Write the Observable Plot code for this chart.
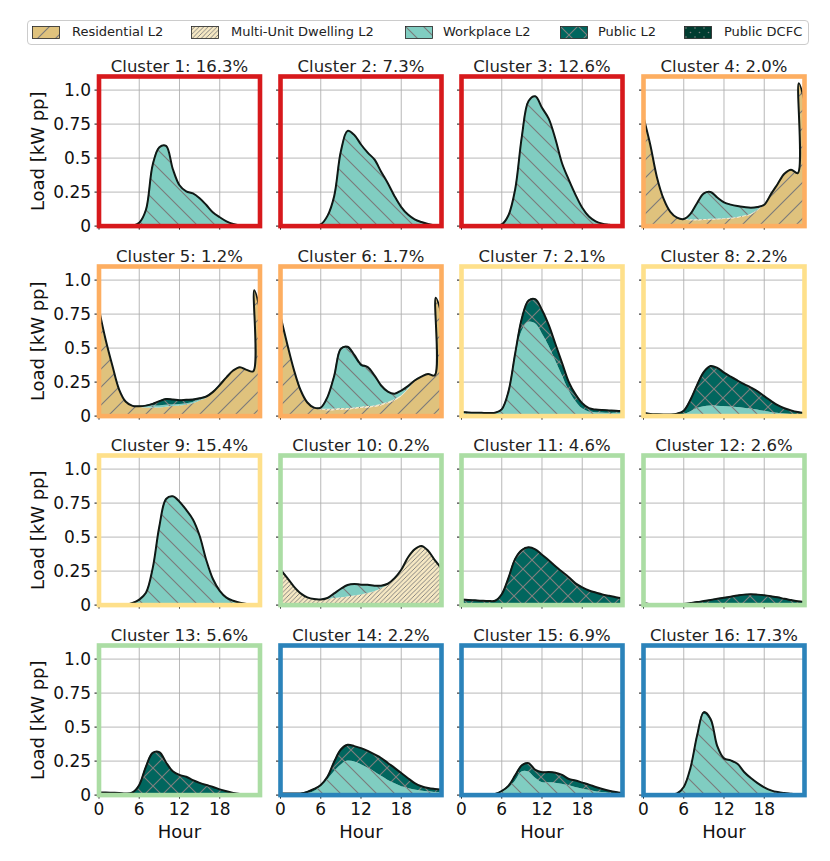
<!DOCTYPE html>
<html>
<head>
<meta charset="utf-8">
<script src="https://cdn.jsdelivr.net/npm/d3@7"></script>
<script src="https://cdn.jsdelivr.net/npm/@observablehq/plot@0.6"></script>
<style>
  html, body { margin: 0; padding: 0; background: #ffffff; }
  #root { position: relative; width: 830px; height: 861px; background: #ffffff; font-family: "DejaVu Sans", sans-serif; overflow: hidden; }
  #legend { position: absolute; left: 27px; top: 20px; width: 780px; height: 23px; border: 1px solid #cccccc; border-radius: 4px; background: #fff; }
  .sw { position: absolute; top: 5px; display: block; }
  .lt { position: absolute; top: 3px; font-size: 13px; line-height: 16px; color: #222; white-space: nowrap; }
</style>
</head>
<body>
<svg width="0" height="0" style="position:absolute">
  <defs>
    <pattern id="h-res" patternUnits="userSpaceOnUse" width="18" height="18">
      <rect width="18" height="18" fill="#dfc27d"/>
      <path d="M-4.5,4.5L4.5,-4.5M0,18L18,0M13.5,22.5L22.5,13.5" stroke="#7a7a7a" stroke-width="1.1"/>
    </pattern>
    <pattern id="h-mud" patternUnits="userSpaceOnUse" width="4.5" height="4.5">
      <rect width="4.5" height="4.5" fill="#f6e8c3"/>
      <path d="M-1.125,1.125L1.125,-1.125M0,4.5L4.5,0M3.375,5.625L5.625,3.375" stroke="#7a7a7a" stroke-width="0.9"/>
    </pattern>
    <pattern id="h-wp" patternUnits="userSpaceOnUse" width="18" height="18">
      <rect width="18" height="18" fill="#80cdc1"/>
      <path d="M-4.5,13.5L4.5,22.5M0,0L18,18M13.5,-4.5L22.5,4.5" stroke="#7a7a7a" stroke-width="1.1"/>
    </pattern>
    <pattern id="h-pub" patternUnits="userSpaceOnUse" width="18" height="18">
      <rect width="18" height="18" fill="#01665e"/>
      <path d="M-4.5,4.5L4.5,-4.5M0,18L18,0M13.5,22.5L22.5,13.5M-4.5,13.5L4.5,22.5M0,0L18,18M13.5,-4.5L22.5,4.5" stroke="#7f7f7f" stroke-width="1.1"/>
    </pattern>
    <pattern id="h-dcfc" patternUnits="userSpaceOnUse" width="9" height="9">
      <rect width="9" height="9" fill="#003c30"/>
      <circle cx="2" cy="2" r="0.8" fill="#7f7f7f"/>
      <circle cx="6.5" cy="6.5" r="0.8" fill="#7f7f7f"/>
    </pattern>
  </defs>
</svg>
<div id="root">
  <div id="legend"></div>
</div>
<script>
// ---------------- data ----------------
const TYPES = ["Residential L2", "Multi-Unit Dwelling L2", "Workplace L2", "Public L2", "Public DCFC"];

const HOURS = [0,1,2,3,4,5,6,7,8,9,10,11,12,13,14,15,16,17,18,19,20,21,22,23,24];
const HOURS_LATE = [0,1,2,3,4,5,6,7,8,9,10,11,12,13,14,15,16,17,18,19,20,21,22,23,23.15,24];

const TITLES = ["Cluster 1: 16.3%", "Cluster 2: 7.3%", "Cluster 3: 12.6%", "Cluster 4: 2.0%",
  "Cluster 5: 1.2%", "Cluster 6: 1.7%", "Cluster 7: 2.1%", "Cluster 8: 2.2%",
  "Cluster 9: 15.4%", "Cluster 10: 0.2%", "Cluster 11: 4.6%", "Cluster 12: 2.6%",
  "Cluster 13: 5.6%", "Cluster 14: 2.2%", "Cluster 15: 6.9%", "Cluster 16: 17.3%"];
const GROUP = [0,0,0,1,1,1,2,2,2,3,3,3,3,4,4,4];

const X_TICKS = [0, 6, 12, 18];
const X_TICK_LABELS = ["0", "6", "12", "18"];
const Y_TICKS = [0, 0.25, 0.5, 0.75, 1.0];
const Y_TICK_LABELS = ["0", "0.25", "0.5", "0.75", "1.0"];
const X_LABEL = "Hour";
const Y_LABEL = "Load [kW pp]";

const c1_wp = [0,0,0,0,0,0.003,0.025,0.12,0.45,0.58,0.59,0.42,0.3,0.255,0.24,0.205,0.155,0.1,0.065,0.035,0.015,0.004,0,0,0];
const c2_wp = [0,0,0,0,0,0.002,0.012,0.075,0.22,0.55,0.70,0.67,0.6,0.54,0.49,0.4,0.315,0.22,0.14,0.085,0.05,0.03,0.015,0.005,0];
const c3_wp = [0,0,0,0,0,0.002,0.012,0.08,0.27,0.66,0.92,0.955,0.87,0.79,0.64,0.46,0.34,0.23,0.135,0.07,0.035,0.018,0.01,0.003,0];

const c4_res = [0.80,0.60,0.36,0.2,0.105,0.062,0.045,0.04,0.04,0.042,0.044,0.046,0.048,0.052,0.058,0.068,0.08,0.11,0.155,0.235,0.31,0.385,0.415,0.39,1.05,0.92];
const c4_mud = [0,0,0,0,0,0,0.004,0.006,0.006,0.006,0.006,0.006,0.006,0.006,0.006,0.006,0.006,0.006,0.002,0,0,0,0,0,0,0];
const c4_wp  = [0,0,0,0,0,0,0.003,0.044,0.124,0.192,0.2,0.158,0.121,0.1,0.083,0.066,0.049,0.024,0,0,0,0,0,0,0,0];

const c5_res = [0.785,0.56,0.37,0.195,0.105,0.075,0.065,0.06,0.06,0.06,0.065,0.07,0.075,0.08,0.09,0.11,0.13,0.17,0.225,0.285,0.335,0.36,0.34,0.33,0.925,0.78];
const c5_wp  = [0,0,0,0,0,0,0.005,0.012,0.015,0.015,0.015,0.012,0.01,0.01,0.01,0.008,0.006,0.004,0.002,0,0,0,0,0,0,0];
const c5_pub = [0,0,0,0,0,0,0.002,0.005,0.015,0.035,0.045,0.04,0.032,0.03,0.022,0.013,0.008,0.004,0.002,0,0,0,0,0,0,0];

const c6_res = [0.735,0.53,0.34,0.19,0.1,0.06,0.045,0.04,0.04,0.045,0.045,0.05,0.055,0.06,0.065,0.075,0.09,0.11,0.14,0.19,0.25,0.29,0.31,0.30,0.87,0.75];
const c6_mud = [0,0,0,0,0,0.002,0.008,0.01,0.01,0.01,0.01,0.01,0.01,0.01,0.01,0.01,0.01,0.01,0.008,0.005,0.002,0,0,0,0,0];
const c6_wp  = [0,0,0,0,0,0,0.01,0.09,0.24,0.43,0.44,0.37,0.3,0.28,0.22,0.14,0.08,0.045,0.04,0.025,0.01,0,0,0,0,0];
const c6_pub = [0,0,0,0,0,0,0,0,0.005,0.01,0.015,0.02,0.015,0.01,0.005,0,0,0,0,0,0,0,0,0,0,0];

const c7_wp  = [0.02,0.018,0.017,0.016,0.016,0.018,0.04,0.16,0.42,0.62,0.69,0.68,0.61,0.52,0.41,0.3,0.19,0.11,0.055,0.03,0.025,0.022,0.02,0.02,0.02];
const c7_pub = [0.01,0.009,0.008,0.008,0.007,0.007,0.01,0.02,0.04,0.1,0.16,0.18,0.17,0.15,0.12,0.09,0.06,0.05,0.04,0.028,0.023,0.022,0.022,0.02,0.017];

const c8_wp  = [0.008,0.005,0.005,0.005,0.005,0.005,0.01,0.03,0.055,0.068,0.074,0.073,0.07,0.066,0.063,0.058,0.052,0.045,0.035,0.027,0.02,0.015,0.012,0.01,0.008];
const c8_pub = [0.017,0.011,0.008,0.007,0.007,0.013,0.03,0.09,0.175,0.257,0.294,0.282,0.25,0.224,0.199,0.177,0.158,0.137,0.112,0.085,0.06,0.043,0.03,0.02,0.014];

const c9_wp  = [0,0,0,0,0.003,0.015,0.04,0.09,0.27,0.58,0.78,0.8,0.76,0.7,0.63,0.51,0.33,0.19,0.105,0.055,0.032,0.017,0.008,0.002,0];

const c10_mud = [0.26,0.2,0.136,0.086,0.057,0.044,0.04,0.042,0.048,0.054,0.06,0.066,0.074,0.085,0.098,0.118,0.145,0.195,0.26,0.35,0.41,0.435,0.4,0.33,0.27];
const c10_wp  = [0,0,0,0,0,0,0.002,0.01,0.038,0.066,0.088,0.09,0.076,0.065,0.045,0.025,0.012,0.003,0,0,0,0,0,0,0];

const c11_pub = [0.042,0.038,0.035,0.032,0.03,0.032,0.08,0.2,0.34,0.405,0.425,0.41,0.37,0.33,0.285,0.245,0.205,0.16,0.13,0.107,0.092,0.078,0.068,0.058,0.05];
const c12_pub = [0.015,0.007,0.003,0.002,0.002,0.003,0.008,0.015,0.022,0.03,0.038,0.046,0.054,0.062,0.07,0.077,0.08,0.077,0.072,0.065,0.057,0.046,0.037,0.028,0.022];
const c13_pub = [0.02,0.019,0.017,0.015,0.012,0.02,0.075,0.21,0.31,0.315,0.24,0.175,0.148,0.135,0.11,0.09,0.074,0.06,0.042,0.028,0.016,0.008,0.003,0.001,0];

const c14_wp  = [0.005,0.004,0.004,0.005,0.01,0.025,0.06,0.11,0.17,0.22,0.25,0.245,0.225,0.2,0.172,0.14,0.11,0.085,0.063,0.048,0.037,0.03,0.024,0.02,0.017];
const c14_pub = [0.007,0.007,0.007,0.007,0.014,0.02,0.015,0.025,0.075,0.115,0.12,0.115,0.12,0.125,0.128,0.133,0.126,0.115,0.099,0.076,0.051,0.035,0.028,0.025,0.023];

const c15_wp  = [0,0,0,0,0,0.005,0.02,0.05,0.1,0.17,0.17,0.125,0.092,0.09,0.088,0.08,0.07,0.056,0.045,0.035,0.025,0.019,0.014,0.009,0.005];
const c15_pub = [0.001,0.001,0.001,0.001,0.001,0.003,0.01,0.018,0.045,0.05,0.065,0.06,0.076,0.08,0.077,0.068,0.048,0.051,0.047,0.042,0.035,0.026,0.018,0.013,0.01];

const c16_wp  = [0,0,0,0,0,0.012,0.06,0.2,0.435,0.595,0.545,0.352,0.265,0.25,0.227,0.17,0.125,0.088,0.057,0.035,0.022,0.015,0.01,0.005,0.002];
const c16_pub = [0,0,0,0,0,0,0,0,0.005,0.015,0.015,0.008,0.005,0.005,0.003,0,0,0,0,0,0,0,0,0,0];

// which series each panel holds (type name, values), and its hour grid
const PANELS = [
  {hours: HOURS, parts: [["Workplace L2", c1_wp]]},
  {hours: HOURS, parts: [["Workplace L2", c2_wp]]},
  {hours: HOURS, parts: [["Workplace L2", c3_wp]]},
  {hours: HOURS_LATE, parts: [["Residential L2", c4_res], ["Multi-Unit Dwelling L2", c4_mud], ["Workplace L2", c4_wp]]},
  {hours: HOURS_LATE, parts: [["Residential L2", c5_res], ["Workplace L2", c5_wp], ["Public L2", c5_pub]]},
  {hours: HOURS_LATE, parts: [["Residential L2", c6_res], ["Multi-Unit Dwelling L2", c6_mud], ["Workplace L2", c6_wp], ["Public L2", c6_pub]]},
  {hours: HOURS, parts: [["Workplace L2", c7_wp], ["Public L2", c7_pub]]},
  {hours: HOURS, parts: [["Workplace L2", c8_wp], ["Public L2", c8_pub]]},
  {hours: HOURS, parts: [["Workplace L2", c9_wp]]},
  {hours: HOURS, parts: [["Multi-Unit Dwelling L2", c10_mud], ["Workplace L2", c10_wp]]},
  {hours: HOURS, parts: [["Public L2", c11_pub]]},
  {hours: HOURS, parts: [["Public L2", c12_pub]]},
  {hours: HOURS, parts: [["Public L2", c13_pub]]},
  {hours: HOURS, parts: [["Workplace L2", c14_wp], ["Public L2", c14_pub]]},
  {hours: HOURS, parts: [["Workplace L2", c15_wp], ["Public L2", c15_pub]]},
  {hours: HOURS, parts: [["Workplace L2", c16_wp], ["Public L2", c16_pub]]}
];

// ---------------- styles / layout ----------------
const PATTERNS = ["url(#h-res)", "url(#h-mud)", "url(#h-wp)", "url(#h-pub)", "url(#h-dcfc)"];
const FRAME_COLORS = ["#d7191c", "#fdae61", "#fee08b", "#abdda4", "#2b83ba"];
const AX_LEFT = [98.5, 279.8, 461, 642.5];
const AX_TOP = [75.5, 265.5, 455, 644.5];
const AXW = 161, AXH = 149.6;
const CURVE = "catmull-rom";
const LEG_SWATCH_X = [4, 163, 377, 532, 656];
const LEG_TEXT_X = [44, 203, 415, 570, 696];

const root = document.getElementById("root");

// legend
const legend = d3.select("#legend");
TYPES.forEach((t, i) => {
  const sw = legend.append("svg").attr("class", "sw").attr("width", 28).attr("height", 13)
    .style("left", LEG_SWATCH_X[i] + "px");
  sw.append("rect").attr("x", 0.5).attr("y", 0.5).attr("width", 27).attr("height", 12)
    .attr("fill", PATTERNS[i]).attr("stroke", "#222").attr("stroke-width", 0.8);
  legend.append("div").attr("class", "lt").style("left", LEG_TEXT_X[i] + "px").text(t);
});

PANELS.forEach((p, i) => {
  const row = Math.floor(i / 4), col = i % 4;
  const rows = [];
  p.parts.forEach(([type, vals]) => vals.forEach((v, j) => rows.push({hour: p.hours[j], load: v, type})));
  const ML = col === 0 ? 98.5 : 10, MT = 30, MR = 8, MB = row === 3 ? 52 : 10;
  const marks = [
    Plot.gridX(X_TICKS.slice(1), {stroke: "#b0b0b0", strokeOpacity: 1, strokeWidth: 0.9}),
    Plot.gridY(Y_TICKS.slice(1), {stroke: "#b0b0b0", strokeOpacity: 1, strokeWidth: 0.9}),
    Plot.areaY(rows, {x: "hour", y: "load", fill: "type", z: "type", order: TYPES, curve: CURVE, clip: true}),
    Plot.lineY(rows, Plot.groupX({y: "sum"}, {x: "hour", y: "load", curve: CURVE, stroke: "#101815", strokeWidth: 2, clip: true})),
    Plot.axisY(Y_TICKS, {tickSize: 4, tickPadding: 4, fontSize: 17, label: null,
      tickFormat: col === 0 ? (d) => Y_TICK_LABELS[Y_TICKS.indexOf(d)] : () => ""}),
    Plot.axisX(X_TICKS, {tickSize: 4, tickPadding: 4, fontSize: 17, label: null,
      tickFormat: row === 3 ? (d) => X_TICK_LABELS[X_TICKS.indexOf(d)] : () => ""}),
    Plot.frame({stroke: FRAME_COLORS[GROUP[i]], strokeWidth: 4.6}),
    Plot.text([TITLES[i]], {text: (d) => d, frameAnchor: "top", textAnchor: "middle", lineAnchor: "middle", dy: -10, fontSize: 16.5, fill: "#222"})
  ];
  if (col === 0) marks.push(Plot.text([Y_LABEL], {text: (d) => d, frameAnchor: "left", textAnchor: "middle", rotate: -90, lineAnchor: "middle", dx: -61, fontSize: 18, fill: "#111"}));
  if (row === 3) marks.push(Plot.text([X_LABEL], {text: (d) => d, frameAnchor: "bottom", textAnchor: "middle", lineAnchor: "middle", dy: 37, fontSize: 18, fill: "#111"}));

  const chart = Plot.plot({
    width: ML + AXW + MR,
    height: MT + AXH + MB,
    marginLeft: ML, marginTop: MT, marginRight: MR, marginBottom: MB,
    x: {domain: [0, 24]},
    y: {domain: [0, 1.1]},
    color: {domain: TYPES, range: PATTERNS},
    style: {background: "transparent", overflow: "visible", fontFamily: "DejaVu Sans, sans-serif", fontSize: "17px", color: "#111"},
    marks
  });
  chart.style.position = "absolute";
  chart.style.left = (AX_LEFT[col] - ML) + "px";
  chart.style.top = (AX_TOP[row] - MT) + "px";
  chart.style.maxWidth = "none";
  root.appendChild(chart);
});
</script>
</body>
</html>
